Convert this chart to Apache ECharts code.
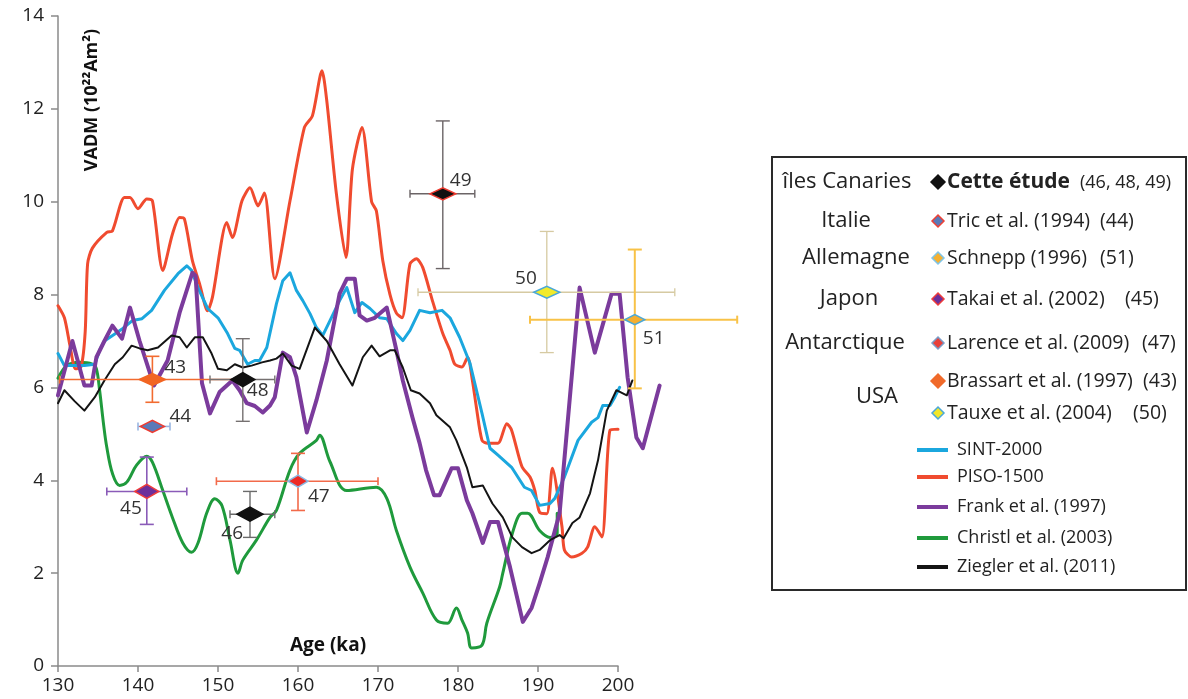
<!DOCTYPE html>
<html><head><meta charset="utf-8">
<script src="https://cdn.jsdelivr.net/npm/echarts@6/dist/echarts.min.js"></script>
<style>html,body{margin:0;padding:0;background:#fff}#c{width:1188px;height:699px}</style>
</head><body><div id="c"></div><script>
// ---------- DATA ----------
const xTicks = [130, 200, 10];   // min, max, interval of the drawn axis
const xDataMax = 215;            // data extend past the drawn axis end
const yTicks = [0, 14, 2];
const lineNames = ['SINT-2000','PISO-1500','Frank et al. (1997)','Christl et al. (2003)','Ziegler et al. (2011)'];

const sint2000 = [[130,6.73],[130.8,6.47],[133.3,6.47],[134.6,6.5],[135.2,6.8],[135.8,7.0],[137.1,7.15],[138.1,7.27],[139.3,7.44],[140.5,7.48],[141.7,7.66],[143.3,8.09],[145.0,8.45],[146.1,8.62],[146.7,8.52],[147.5,8.15],[148.7,7.7],[150.0,7.5],[151.2,7.16],[152.1,6.84],[152.7,6.8],[153.7,6.5],[154.6,6.58],[155.2,6.58],[156.1,6.86],[157.3,7.8],[158.1,8.3],[159.0,8.47],[159.8,8.09],[160.6,7.87],[161.5,7.59],[162.3,7.29],[163.1,7.12],[164.0,7.44],[165.2,7.87],[166.1,8.15],[167.1,7.61],[168.0,7.83],[169.0,7.7],[170.2,7.5],[171.1,7.48],[172.3,7.16],[173.1,7.01],[174.0,7.23],[175.2,7.66],[176.5,7.61],[178.0,7.66],[179.0,7.5],[180.2,7.08],[181.5,6.52],[182.1,6.09],[183.0,5.44],[184.0,4.69],[185.0,4.54],[186.7,4.28],[188.3,3.85],[189.2,3.78],[190.2,3.46],[191.5,3.5],[192.1,3.61],[193.3,4.07],[195.0,4.86],[196.7,5.25],[197.5,5.35],[198.1,5.61],[199.0,5.61],[199.6,5.79],[200.2,6.0]];

const piso1500 = [[130,7.76],[130.8,7.5],[131.5,6.9],[132.2,6.4],[132.9,6.45],[133.4,7.2],[133.7,8.66],[134.3,9.0],[136.1,9.34],[136.8,9.37],[138.3,10.09],[139.0,10.09],[140.0,9.85],[141.1,10.06],[141.8,10.02],[143.1,8.52],[144.3,9.3],[145.2,9.66],[145.8,9.63],[146.8,8.73],[147.7,8.23],[148.7,7.65],[149.3,7.94],[151.1,9.55],[151.8,9.23],[153.0,10.02],[154.0,10.3],[155.0,9.91],[155.8,10.19],[157.1,8.34],[159.0,10.02],[160.8,11.6],[161.8,11.85],[163.0,12.82],[163.6,12.17],[164.8,10.17],[166.0,8.8],[166.8,10.7],[168.0,11.6],[169.2,10.0],[169.8,9.8],[170.6,8.73],[171.5,8.0],[172.3,7.6],[173.0,7.5],[174.0,8.66],[174.8,8.77],[175.6,8.58],[176.8,7.87],[178.1,7.16],[179.0,6.8],[179.6,6.5],[180.5,6.44],[181.2,6.65],[181.8,6.15],[182.3,5.57],[183.0,4.86],[183.7,4.8],[185.0,4.8],[186.1,5.22],[186.7,5.08],[188.0,4.29],[189.0,4.07],[189.6,3.78],[190.2,3.31],[191.1,3.28],[191.8,4.26],[193.0,3.0],[193.3,2.5],[194.2,2.35],[195.5,2.43],[196.2,2.56],[197.1,3.0],[198.0,2.78],[199.0,5.08],[200.0,5.1]];

const frank1997 = [[130,5.83],[131.8,7.0],[133.3,6.04],[134.2,6.04],[134.8,6.65],[135.8,7.0],[136.8,7.33],[138.0,7.05],[139.0,7.72],[140.2,7.0],[142.0,6.04],[143.7,6.58],[145.2,7.61],[146.8,8.47],[147.2,8.4],[148.0,6.09],[149.0,5.44],[150.2,5.9],[151.8,6.15],[152.7,5.94],[153.6,5.66],[154.6,5.6],[155.6,5.46],[156.5,5.61],[157.1,5.79],[158.1,6.75],[159.0,6.65],[159.8,6.22],[161.1,5.03],[162.3,5.72],[163.6,6.58],[165.2,8.02],[166.1,8.34],[167.1,8.34],[167.7,7.55],[168.6,7.44],[169.6,7.5],[171.1,7.72],[172.3,6.8],[173.1,6.15],[174.3,5.36],[175.2,4.8],[176.0,4.22],[177.0,3.68],[177.7,3.68],[179.2,4.26],[180.0,4.26],[181.1,3.57],[181.8,3.29],[183.1,2.65],[184.0,3.1],[185.0,3.1],[186.5,2.13],[188.1,0.95],[189.2,1.25],[190.2,1.78],[191.2,2.34],[192.7,3.29],[195.2,8.15],[197.1,6.75],[199.2,8.02],[200.2,8.02],[201.2,6.22],[202.3,4.92],[203.1,4.69],[205.2,6.04]];

const christl2003 = [[130,6.2],[131.1,6.47],[132.7,6.54],[134.3,6.5],[134.8,6.4],[135.2,5.94],[135.7,5.2],[136.1,4.71],[136.8,4.15],[137.7,3.89],[138.6,3.96],[139.8,4.32],[141.1,4.52],[141.8,4.39],[143.1,3.78],[144.3,3.2],[145.6,2.65],[146.7,2.45],[147.5,2.65],[148.6,3.3],[149.6,3.6],[150.5,3.45],[151.5,2.71],[152.5,2.0],[153.1,2.28],[154.8,2.71],[156.5,3.2],[157.3,3.35],[159.0,4.22],[160.2,4.58],[162.3,4.86],[162.7,4.97],[164.0,4.4],[166.1,3.78],[169.8,3.85],[171.1,3.61],[172.3,2.92],[174.0,2.13],[175.6,1.57],[177.3,0.99],[178.7,0.92],[179.8,1.25],[180.5,0.99],[181.2,0.71],[181.7,0.39],[183.0,0.45],[183.6,0.92],[185.2,1.7],[185.6,2.0],[186.8,2.86],[188.0,3.29],[188.7,3.29],[190.2,2.92],[191.5,2.77],[192.4,2.86],[192.4,3.29]];

const ziegler2011 = [[130,5.66],[130.8,5.94],[132.1,5.7],[133.3,5.5],[134.6,5.79],[135.8,6.15],[137.1,6.5],[138.1,6.65],[139.2,6.9],[140.2,6.84],[141.2,6.8],[142.5,6.86],[144.2,7.12],[145.2,7.08],[146.1,6.86],[147.1,7.08],[148.1,7.08],[149.2,6.73],[150.0,6.4],[151.1,6.37],[152.1,6.5],[153.1,6.43],[154.2,6.47],[155.5,6.54],[156.5,6.58],[157.3,6.62],[158.1,6.73],[159.2,6.47],[160.2,6.4],[162.1,7.29],[163.6,7.0],[165.2,6.5],[166.8,6.04],[168.1,6.65],[169.2,6.9],[170.2,6.67],[171.5,6.8],[172.1,6.8],[173.1,6.43],[174.1,5.94],[175.2,5.87],[176.5,5.66],[177.3,5.4],[179.0,5.14],[179.8,4.86],[181.1,4.28],[181.8,3.85],[183.1,3.89],[184.3,3.5],[185.6,3.2],[186.8,2.77],[188.0,2.56],[189.2,2.43],[190.2,2.5],[191.5,2.71],[192.7,2.82],[193.2,2.75],[194.3,3.08],[195.2,3.2],[196.5,3.72],[197.5,4.43],[198.6,5.5],[199.8,5.94],[201.1,5.83],[201.8,6.15]];

// paleointensity points with error bars
const markerIds  = ['43','44','45','46','47','48','49','50','51'];
const markerAge  = [141.8, 141.8, 141.1, 154.0, 160.0, 153.1, 178.1, 191.1, 202.1];
const markerVadm = [6.17, 5.16, 3.76, 3.27, 3.98, 6.17, 10.17, 8.05, 7.46];
const ageLow     = [130.2, 140.0, 136.1, 151.5, 149.8, 149.0, 174.0, 175.0, 189.0];
const ageHigh    = [153.0, 144.0, 146.1, 157.1, 170.0, 157.1, 182.1, 207.1, 214.9];
const vadmLow    = [5.68, 5.16, 3.05, 2.77, 3.35, 5.27, 8.56, 6.75, 5.98];
const vadmHigh   = [6.67, 5.16, 4.50, 3.76, 4.58, 7.05, 11.74, 9.36, 8.97];

// legend texts
const legendCountries = ['îles Canaries','Italie','Allemagne','Japon','Antarctique','USA'];
const legendRefs = ['Cette étude','Tric et al. (1994)','Schnepp (1996)','Takai et al. (2002)','Larence et al. (2009)','Brassart et al. (1997)','Tauxe et al. (2004)'];
const legendRefNums = ['(46, 48, 49)','(44)','(51)','(45)','(47)','(43)','(50)'];
const yAxisTitle = 'VADM (10²²Am²)';
const xAxisTitle = 'Age (ka)';

// ---------- STYLES / LAYOUT ----------
const FONT = '"Open Sans", "Noto Sans", sans-serif';
const plotLeft = 58, plotTop = 16, plotBottom = 33, plotWidth = 560; // 130..200
const lineLooks = [
  {color:'#1ba7de', width:3, smooth:false},
  {color:'#f04b2f', width:3, smooth:0.25},
  {color:'#7b3b9c', width:4, smooth:false},
  {color:'#1f9a3c', width:3, smooth:0.35},
  {color:'#141414', width:2, smooth:false}
];
const markerLooks = [
  {fill:'#f26522', stroke:'#f26522', bar:'#f26b30', bw:1.6, w:13, h:6, lbl:[12,-12,'left']},
  {fill:'#5b7ab8', stroke:'#ee3b30', bar:'#9ab6e2', bw:1.6, w:12, h:6, lbl:[17,-10,'left']},
  {fill:'#6d2f9b', stroke:'#ef3b3b', bar:'#8a5bb8', bw:1.6, w:12, h:7, lbl:[-5,17,'right']},
  {fill:'#111111', stroke:'#111111', bar:'#6b6b6b', bw:1.4, w:13, h:7, lbl:[-7,19,'right']},
  {fill:'#ee2a24', stroke:'#8bb8e2', bar:'#f26a4a', bw:1.6, w:10, h:6, lbl:[10,15,'left']},
  {fill:'#111111', stroke:'#111111', bar:'#757070', bw:1.4, w:12, h:7, lbl:[4,11,'left']},
  {fill:'#111111', stroke:'#ee3b30', bar:'#6b6466', bw:1.4, w:13, h:6, lbl:[7,-13,'left']},
  {fill:'#f2ea2a', stroke:'#4aa8d8', bar:'#d6caa2', bw:1.3, w:13, h:6, lbl:[-10,-14,'right']},
  {fill:'#f5ae2f', stroke:'#4aa8d8', bar:'#f8c247', bw:2, w:10, h:5, lbl:[8,19,'left']}
];
const legendDiamonds = [
  {fill:'#111', stroke:'#111', s:7},
  {fill:'#5a7ab8', stroke:'#ee4035', s:6},
  {fill:'#f5b030', stroke:'#7ec4e8', s:6},
  {fill:'#6a2f9a', stroke:'#ee3b3b', s:6},
  {fill:'#e8403a', stroke:'#7a9cc8', s:6},
  {fill:'#f06a2a', stroke:'#f06a2a', s:7},
  {fill:'#f2e62a', stroke:'#4aa8d8', s:6}
];
const countryPos = [[847,182],[846,221],[856,258],[849,299],[845,343],[877,397]];
const refRowY = [182,221,258,299,343,381,413];
const refNumX = [1080,1100,1100,1125,1142,1143,1133];
const lineRowY = [450,477,507,538,567];

// ---------- BUILD ----------
const chart = echarts.init(document.getElementById('c'), null, {renderer:'canvas'});
const lineData = [sint2000, piso1500, frank1997, christl2003, ziegler2011];
const drawOrder = [3,1,0,2,4];
// data grid has the same scale as the drawn axis, but extends to xDataMax
const dataWidth = plotWidth * (xDataMax - xTicks[0]) / (xTicks[1] - xTicks[0]);

const series = drawOrder.map(i => ({
  type:'line', name:lineNames[i], data:lineData[i], showSymbol:false, symbol:'none',
  xAxisIndex:1, yAxisIndex:1,
  smooth: lineLooks[i].smooth, z:2,
  lineStyle:{color:lineLooks[i].color, width:lineLooks[i].width, join:'round', cap:'round'},
  animation:false
}));

const markerData = markerIds.map((id,i)=>[markerAge[i], markerVadm[i], ageLow[i], ageHigh[i], vadmLow[i], vadmHigh[i], i]);

series.push({
  type:'custom', clip:false, z:5, animation:false,
  xAxisIndex:1, yAxisIndex:1,
  data: markerData,
  encode:{x:[0,2,3], y:[1,4,5]},
  renderItem(params, api){
    const i = api.value(6);
    const L = markerLooks[i];
    const c = api.coord([api.value(0), api.value(1)]);
    const xl = api.coord([api.value(2), api.value(1)]);
    const xh = api.coord([api.value(3), api.value(1)]);
    const yl = api.coord([api.value(0), api.value(4)]);
    const yh = api.coord([api.value(0), api.value(5)]);
    const ls = {stroke:L.bar, lineWidth:L.bw};
    const ch = [];
    ch.push({type:'line', shape:{x1:xl[0],y1:c[1],x2:xh[0],y2:c[1]}, style:ls});
    ch.push({type:'line', shape:{x1:xl[0],y1:c[1]-4,x2:xl[0],y2:c[1]+4}, style:ls});
    ch.push({type:'line', shape:{x1:xh[0],y1:c[1]-4,x2:xh[0],y2:c[1]+4}, style:ls});
    if (Math.abs(yl[1]-yh[1]) > 1) {
      ch.push({type:'line', shape:{x1:c[0],y1:yl[1],x2:c[0],y2:yh[1]}, style:ls});
      ch.push({type:'line', shape:{x1:c[0]-7,y1:yl[1],x2:c[0]+7,y2:yl[1]}, style:ls});
      ch.push({type:'line', shape:{x1:c[0]-7,y1:yh[1],x2:c[0]+7,y2:yh[1]}, style:ls});
    }
    ch.push({type:'polygon', shape:{points:[[c[0]-L.w,c[1]],[c[0],c[1]-L.h],[c[0]+L.w,c[1]],[c[0],c[1]+L.h]]},
      style:{fill:L.fill, stroke:L.stroke, lineWidth:1.5}});
    ch.push({type:'text', x:c[0]+L.lbl[0], y:c[1]+L.lbl[1],
      style:{text:markerIds[i], font:'19px '+FONT, fill:'#333', align:L.lbl[2], verticalAlign:'middle'}});
    return {type:'group', children:ch};
  }
});

// legend graphic
const g = [];
g.push({type:'rect', shape:{x:772,y:157,width:414,height:433}, style:{fill:'#fff', stroke:'#2a2a2a', lineWidth:2}, z:1});
legendCountries.forEach((t,i)=>{
  g.push({type:'text', x:countryPos[i][0], y:countryPos[i][1], z:2,
    style:{text:t, font:'22px '+FONT, fill:'#222', align:'center', verticalAlign:'middle'}});
});
legendRefs.forEach((t,i)=>{
  const d = legendDiamonds[i], y = refRowY[i], x = 938;
  g.push({type:'polygon', z:2, shape:{points:[[x-d.s,y],[x,y-d.s],[x+d.s,y],[x,y+d.s]]}, style:{fill:d.fill, stroke:d.stroke, lineWidth:1.5}});
  g.push({type:'text', x:947, y:y, z:2,
    style:{text:t, font:(i===0?'bold 21px ':'19.5px ')+FONT, fill:'#222', align:'left', verticalAlign:'middle'}});
  g.push({type:'text', x:refNumX[i], y:y+(i===0?1:0), z:2,
    style:{text:legendRefNums[i], font:(i===0?'18px ':'19.5px ')+FONT, fill:'#222', align:'left', verticalAlign:'middle'}});
});
lineNames.forEach((t,i)=>{
  const y = lineRowY[i];
  g.push({type:'line', z:2, shape:{x1:917,y1:y,x2:948,y2:y}, style:{stroke:lineLooks[i].color, lineWidth:4}});
  g.push({type:'text', x:957, y:y, z:2,
    style:{text:t, font:'18px '+FONT, fill:'#222', align:'left', verticalAlign:'middle'}});
});
// axis titles
g.push({type:'text', x:92, y:100, rotation:Math.PI/2, z:3,
  style:{text:yAxisTitle, font:'bold 18px '+FONT, fill:'#111', align:'center', verticalAlign:'middle'}});
g.push({type:'text', x:328, y:646, z:3,
  style:{text:xAxisTitle, font:'bold 19px '+FONT, fill:'#111', align:'center', verticalAlign:'middle'}});

const axisCol = '#8a8a8a';
chart.setOption({
  animation:false,
  backgroundColor:'#fff',
  grid:[
    {left:plotLeft, top:plotTop, bottom:plotBottom, width:plotWidth, containLabel:false},
    {left:plotLeft, top:plotTop, bottom:plotBottom, width:dataWidth, containLabel:false}
  ],
  xAxis:[
    {type:'value', gridIndex:0, min:xTicks[0], max:xTicks[1], interval:xTicks[2],
      axisLine:{show:true, lineStyle:{color:axisCol, width:1.5}},
      axisTick:{show:true, length:6, lineStyle:{color:axisCol, width:1.5}},
      axisLabel:{color:'#222', fontSize:19, fontFamily:FONT, margin:10},
      splitLine:{show:false}},
    {type:'value', gridIndex:1, min:xTicks[0], max:xDataMax, show:false, splitLine:{show:false}}
  ],
  yAxis:[
    {type:'value', gridIndex:0, min:yTicks[0], max:yTicks[1], interval:yTicks[2],
      axisLine:{show:true, lineStyle:{color:axisCol, width:1.5}},
      axisTick:{show:true, length:7, lineStyle:{color:axisCol, width:1.5}},
      axisLabel:{color:'#222', fontSize:19, fontFamily:FONT, margin:14},
      splitLine:{show:false}},
    {type:'value', gridIndex:1, min:yTicks[0], max:yTicks[1], show:false, splitLine:{show:false}}
  ],
  series: series,
  graphic: g
});
</script></body></html>
